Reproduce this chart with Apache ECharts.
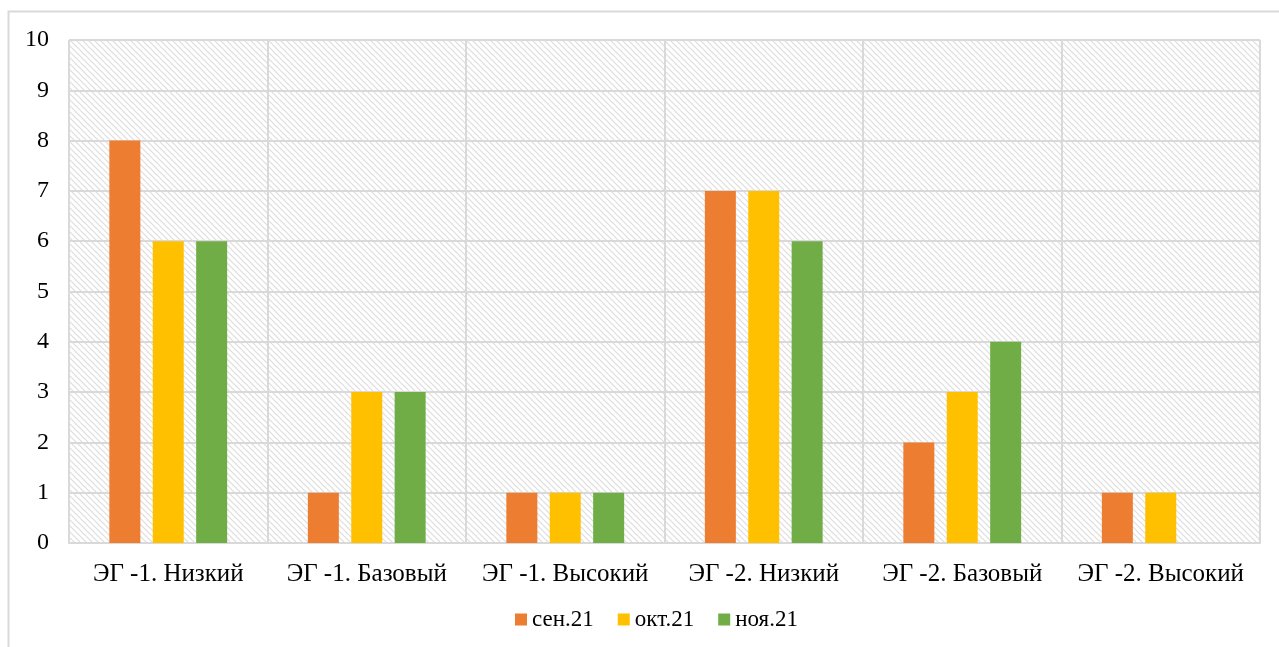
<!DOCTYPE html>
<html>
<head>
<meta charset="utf-8">
<script src="https://cdn.jsdelivr.net/npm/echarts@6/dist/echarts.min.js"></script>
<style>
  html, body { margin: 0; padding: 0; background: #fff; }
  #chart { width: 1279px; height: 647px; }
</style>
</head>
<body>
<div id="chart"></div>
<script>
// categories and series
var categories = ['ЭГ -1. Низкий', 'ЭГ -1. Базовый', 'ЭГ -1. Высокий', 'ЭГ -2. Низкий', 'ЭГ -2. Базовый', 'ЭГ -2. Высокий'];
var sen21 = [8, 1, 1, 7, 2, 1];
var okt21 = [6, 3, 1, 7, 3, 1];
var noy21 = [6, 3, 1, 6, 4, 0];
var seriesNames = ['сен.21', 'окт.21', 'ноя.21'];

// hatched fill for the plot background
function makeHatch() {
    var c = document.createElement('canvas');
    c.width = 6; c.height = 6;
    var ctx = c.getContext('2d');
    ctx.fillStyle = '#ffffff';
    ctx.fillRect(0, 0, 6, 6);
    ctx.strokeStyle = '#dddddd';
    ctx.lineWidth = 1.2;
    ctx.beginPath();
    ctx.moveTo(-1, -1); ctx.lineTo(7, 7);
    ctx.moveTo(-4, 2); ctx.lineTo(4, 10);
    ctx.moveTo(2, -4); ctx.lineTo(10, 4);
    ctx.stroke();
    return c;
}

var font = '"Liberation Serif", "Times New Roman", serif';
var chart = echarts.init(document.getElementById('chart'));
var option = {
    animation: false,
    textStyle: { fontFamily: font },
    graphic: [{
        type: 'rect',
        shape: { x: 8.5, y: 11.5, width: 1400, height: 800 },
        style: { fill: 'none', stroke: '#d9d9d9', lineWidth: 2 },
        silent: true
    }],
    grid: {
        left: 69, right: 19, top: 40, bottom: 104,
        show: true,
        backgroundColor: { image: makeHatch(), repeat: 'repeat' },
        borderWidth: 0
    },
    legend: {
        bottom: 11,
        left: 510,
        itemWidth: 12, itemHeight: 12,
        itemGap: 24,
        itemTextGap: 5,
        icon: 'rect',
        textStyle: { fontFamily: font, fontSize: 23, color: '#000' },
        data: seriesNames
    },
    xAxis: {
        type: 'category',
        data: categories,
        axisTick: { show: false },
        axisLine: { lineStyle: { color: '#d9d9d9', width: 2 } },
        axisLabel: { color: '#000', fontSize: 25, fontFamily: font, margin: 19, interval: 0 },
        splitLine: { show: true, interval: 0, lineStyle: { color: '#d9d9d9', width: 2 } }
    },
    yAxis: {
        type: 'value',
        min: 0, max: 10, interval: 1,
        axisLine: { show: false },
        axisTick: { show: false },
        axisLabel: { color: '#000', fontSize: 24, fontFamily: font, margin: 20 },
        splitLine: { lineStyle: { color: '#d9d9d9', width: 2 } }
    },
    series: [
        { name: seriesNames[0], type: 'bar', data: sen21, barWidth: 31, barGap: '40%', itemStyle: { color: '#ED7D31' } },
        { name: seriesNames[1], type: 'bar', data: okt21, barWidth: 31, barGap: '40%', itemStyle: { color: '#FFC000' } },
        { name: seriesNames[2], type: 'bar', data: noy21, barWidth: 31, barGap: '40%', itemStyle: { color: '#70AD47' } }
    ]
};
chart.setOption(option);
</script>
</body>
</html>
